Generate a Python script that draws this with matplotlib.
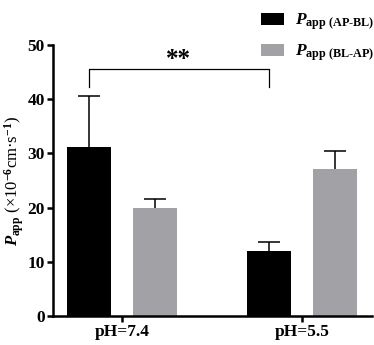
import matplotlib
matplotlib.use('Agg')
import matplotlib.pyplot as plt
import numpy as np

"""data read off the reference"""
groups = ['pH=7.4', 'pH=5.5']
ap_bl = [31.2, 12.0]
ap_bl_err = [9.4, 1.7]
bl_ap = [19.9, 27.1]
bl_ap_err = [1.7, 3.4]
series_labels = ['$\\mathit{P}_{\\text{app (AP-BL)}}$', '$\\mathit{P}_{\\text{app (BL-AP)}}$']

"""fonts - times-like bold everywhere"""
plt.rcParams['font.family'] = 'Liberation Serif'
plt.rcParams['font.weight'] = 'bold'
plt.rcParams['mathtext.fontset'] = 'custom'
plt.rcParams['mathtext.rm'] = 'Liberation Serif:bold'
plt.rcParams['mathtext.it'] = 'Liberation Serif:italic:bold'
plt.rcParams['mathtext.bf'] = 'Liberation Serif:bold'

fig = plt.figure(figsize=(3.74, 3.45), dpi=100)
ax = fig.add_axes([53/374, 1-316/345, (372-53)/374, (316-45)/345])

x = np.arange(len(groups))
w = 0.244
off = 0.185
ax.bar(x - off, ap_bl, w, color='black', label=series_labels[0])
ax.bar(x + off, bl_ap, w, color='#a2a2a6', label=series_labels[1])
for xs, ys, es in [(x - off, ap_bl, ap_bl_err), (x + off, bl_ap, bl_ap_err)]:
    eb = ax.errorbar(xs, ys, yerr=[np.zeros(2), es], fmt='none', ecolor='black',
                     elinewidth=1.1, capsize=8, capthick=1.1)
    eb[1][0].set_visible(False)  # no cap at the bar top

"""significance bracket"""
ax.plot([x[0]-off, x[0]-off, x[1]-off, x[1]-off], [42.3, 45.6, 45.6, 42.3], color='black', lw=0.9)
ax.text((x[0]-off + x[1]-off)/2, 47.4, '**', ha='center', va='center', fontsize=18)

ax.set_xlim(-0.383, 1.389)
ax.set_ylim(0, 50)
ax.set_yticks([0, 10, 20, 30, 40, 50])
ax.set_xticks(x)
ax.set_xticklabels(groups)
for s in ['top', 'right']:
    ax.spines[s].set_visible(False)
for s in ['left', 'bottom']:
    ax.spines[s].set_linewidth(1.8)
ax.tick_params(width=1.8, length=4, labelsize=12.5, pad=2)

ax.set_ylabel('$\\mathit{P}_{\\mathrm{app}}$ (×10$^{-6}$cm·s$^{-1}$)', fontsize=12, labelpad=1)

fig.legend(loc='upper left', bbox_to_anchor=(252/374, 1-3/345), frameon=False, fontsize=12.5,
           handlelength=1.35, handleheight=0.7, handletextpad=0.6, labelspacing=0.6, borderpad=0)

fig.savefig('out.png', dpi=100)
